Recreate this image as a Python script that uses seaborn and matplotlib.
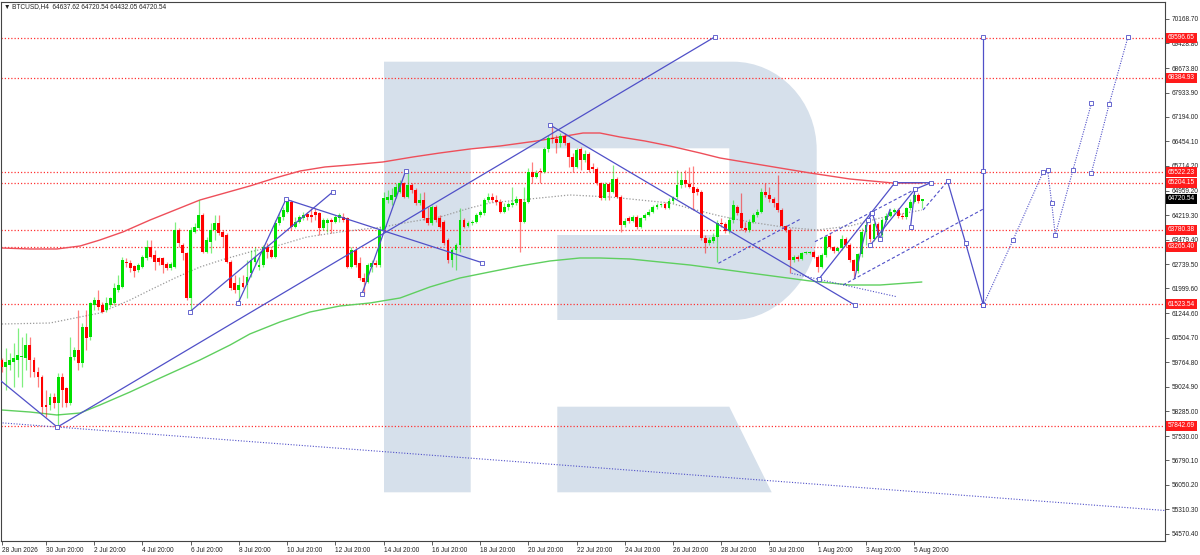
import matplotlib
matplotlib.use("Agg")
import matplotlib.pyplot as plt
from matplotlib.path import Path
from matplotlib.patches import PathPatch, Polygon
import seaborn as sns
import pandas as pd
import numpy as np

# ---------------- data ----------------
opens = [59832,59630,59680,59781,59832,59933,59882,60287,59832,59478,
         59327,58468,58468,58721,58519,59327,58973,58519,59933,60135,
         59731,60842,60539,61499,61650,61499,61347,61499,61549,61953,
         62054,62812,62761,62680,62559,62660,62913,63246,63014,62913,
         62913,62741,62610,62660,63771,63317,63064,61701,63721,63822,
         64226,63115,63418,63771,63973,63721,63620,62812,62155,61953,
         62154,62104,62457,62810,62659,62709,63265,63164,62962,63972,
         64174,64326,64629,63871,64022,64123,64255,64224,64326,64275,
         63820,63972,64073,64022,64123,64174,64123,62659,63164,62760,
         62305,62205,62659,62780,62709,63770,64679,64679,64780,64931,
         65184,64780,65133,64982,64578,64679,64123,63972,64477,64123,
         64022,63467,62861,63164,63316,64073,63891,63992,64022,64224,
         64275,64679,64780,64679,64629,64326,64477,64528,64578,64699,
         64023,64629,65538,65386,65558,65517,66214,66548,66517,66396,
         66618,66396,65992,65689,66214,65891,66073,65689,65608,65184,
         64730,65164,64932,65305,64780,63922,64124,64053,64174,63871,
         64124,64225,64326,64457,64528,64548,64427,64659,64760,65134,
         65285,65164,65083,65003,64932,63518,63386,63447,63548,63972,
         63953,63751,64074,64478,64276,63822,63771,64024,64226,64327,
         64933,64832,64700,64599,64377,63892,63771,62862,62963,62882,
         63064,63084,63115,62963,62660,63014,63589,63246,63145,63216,
         63488,63317,62862,62539,63044,63721,63923,63488,63953,63620,
         64074,64195,64327,64377,64195,64155,64428,64630,64832,64637.62]
highs = [59883,60185,60034,60337,60792,60539,60640,60539,59933,59630,
         59378,58923,58822,58822,59428,59428,59024,60539,60236,61347,
         60943,61347,61600,61751,61953,61600,61751,61751,62155,62408,
         62963,62913,62862,62710,62761,63014,63468,63468,63165,62963,
         62963,62812,62812,64024,63822,63367,63115,63872,63973,64680,
         64276,63569,63973,64226,64226,63771,63670,62862,62408,62357,
         62406,62861,63164,63265,62962,63316,63366,63214,64073,64275,
         64477,64699,64679,64174,64224,64326,64326,64427,64427,64326,
         64123,64123,64123,64224,64275,64275,64174,63265,63214,62962,
         62457,62760,62861,62861,63871,64932,64982,65033,65184,65285,
         65235,65568,65184,65033,64881,64932,64477,64528,64528,64224,
         64073,63520,63214,63366,64427,64123,64053,64073,64275,64376,
         64729,64881,64881,64831,64699,64578,64629,65083,64800,64629,
         65083,65639,65840,65588,65639,66295,66648,66951,66648,66699,
         66699,66446,66093,66245,66295,66194,66144,65790,65689,65235,
         65235,65235,65740,65386,64831,64124,64194,64225,64225,64174,
         64275,64396,64528,64578,64598,64629,64730,64800,65588,65538,
         65588,65689,65709,65063,64982,63619,63568,63669,64073,64125,
         64024,64175,64680,64529,64882,64024,64094,64276,64397,65034,
         65185,65084,64781,65437,64428,63923,63822,63014,63014,63115,
         63145,63145,63165,63014,63064,63620,63670,63286,63266,63620,
         63549,63367,62882,63084,63822,64074,63973,64024,64024,64125,
         64276,64397,64428,64428,64276,64478,64700,64882,64882,64720.54]
lows = [59478,58923,59529,59024,59327,59024,59529,59327,59327,59024,
        58216,58115,58317,58368,57812,58418,58418,58468,59832,59529,
        59630,60135,60438,61347,61347,61246,61297,61448,61499,61903,
        62004,62660,62508,62357,62508,62610,62862,62913,62559,62710,
        62458,62559,62559,62610,63266,62862,61650,61297,63670,63771,
        63064,63064,63064,63468,63620,63266,62761,61953,61852,61549,
        62003,61700,62356,62709,62558,62659,62911,62911,62911,63922,
        64073,64275,63770,63821,63972,64073,64073,64022,64073,63619,
        63770,63720,63669,63972,64022,64022,62608,62608,62659,62255,
        61831,62154,62507,62659,62659,63720,64578,64528,64729,64881,
        64729,64729,64881,64528,64528,64073,63922,63922,64022,63820,
        63316,62760,62659,62558,63113,63820,63851,63922,63972,64174,
        64224,64629,64629,64528,64275,64275,64376,64477,64528,63113,
        63972,64578,65184,65336,65184,65487,66144,66396,66093,66295,
        66346,65689,65538,65639,65588,65841,65538,65538,65134,64679,
        64679,64679,64881,64730,63720,63871,63993,64023,63790,63820,
        64073,64194,64275,64396,64457,64396,64396,64598,64699,65033,
        65083,65033,64376,64831,63467,63063,63316,63386,62802,63872,
        63670,63690,63993,64226,63771,63721,63721,63973,64175,64276,
        64781,64630,64478,64327,63822,63721,62458,62812,62842,62862,
        63034,63044,62913,62509,62610,62943,63185,63084,63104,63165,
        63266,62812,62307,62478,62963,63317,63418,63448,63468,63569,
        64024,64155,64276,64125,64094,64094,64377,64579,64599,64432.05]
closes = [59630,59781,59832,59882,59983,59953,60287,59832,59478,59327,
          58418,58418,58721,58519,59327,58923,58519,59933,60135,59731,
          60842,60489,61549,61650,61448,61297,61549,61701,62004,62105,
          62862,62761,62610,62539,62710,62963,63246,62963,62812,62812,
          62710,62610,62741,63771,63367,63064,61701,63771,63872,64226,
          63115,63468,63771,63973,63670,63569,62812,62004,61953,62105,
          62053,62356,62861,62962,62709,63265,63113,62962,63972,64174,
          64376,64679,63871,64022,64174,64224,64174,64154,64224,63820,
          64073,64073,64022,64174,64224,64073,62659,63164,62709,62305,
          62205,62709,62780,62709,63770,64729,64780,64830,65083,65184,
          64780,65133,64982,64578,64679,64123,63972,64477,64073,63871,
          63366,62861,63164,63316,64073,63871,63992,64022,64224,64326,
          64679,64780,64679,64629,64326,64477,64558,64578,64699,64023,
          64629,65538,65386,65507,65517,66214,66548,66517,66396,66618,
          66396,65992,65689,66194,65891,66073,65588,65608,65184,64730,
          65164,64932,65305,64780,63922,64053,64053,64174,63851,64124,
          64225,64326,64457,64528,64548,64427,64659,64760,65134,65285,
          65164,65083,64902,64932,63518,63386,63467,63548,63972,63953,
          63751,64074,64529,64276,63822,63771,64024,64226,64327,64933,
          64832,64700,64579,64377,63892,63771,62862,62963,62882,63064,
          63115,63115,62963,62660,63014,63569,63246,63145,63216,63488,
          63317,62862,62539,63044,63721,63923,63488,63953,63620,64074,
          64195,64327,64377,64195,64155,64428,64630,64832,64660,64720.54]

# moving averages (bar index, price)
ma_red_x = [0, 7, 13.7, 19.5, 24.4, 30.1, 36.9, 43.1, 49.3, 55.5, 61.7, 68, 74.2, 80.4,
            86.6, 94.8, 102.3, 109, 116.5, 124, 133.1, 138.9, 144.6, 148.8, 153.8, 160,
            166.2, 173.7, 178.7, 186.1, 193.6, 201.1, 211, 221.7, 228.9]
ma_red_y = [63226, 63196, 63196, 63287, 63468, 63711, 64074, 64377, 64680, 64892, 65104,
            65346, 65558, 65680, 65740, 65831, 65983, 66104, 66225, 66316, 66467, 66588,
            66709, 66709, 66588, 66467, 66316, 66104, 65952, 65801, 65649, 65498, 65316,
            65195, 65195]
ma_green_x = [0, 7, 13.7, 19.5, 24.4, 31.9, 39.4, 49.3, 56.8, 61.7, 69.2, 76.7, 84.1, 91.6,
              99.1, 106.5, 114, 121.4, 128.9, 136.4, 143.8, 148.8, 156.3, 163.7, 171.2,
              178.7, 186.1, 193.6, 201.1, 211, 218.5, 228.9]
ma_green_y = [58319, 58258, 58168, 58228, 58470, 58864, 59288, 59834, 60288, 60621, 60985,
              61288, 61469, 61560, 61712, 62045, 62318, 62500, 62681, 62833, 62923, 62923,
              62893, 62802, 62711, 62590, 62469, 62348, 62227, 62105, 62105, 62196]
ma_gray_x = [0, 12, 24.4, 31.9, 36.9, 43.1, 49.3, 55.5, 61.7, 69.2, 75.9, 84.1, 94.8, 101.5,
             109, 116.5, 121.4, 128.9, 141.3, 151.3, 158.8, 166.2, 173.7, 178.7, 186.1,
             194.3, 202.8, 211, 218.5, 228.9]
ma_gray_y = [60924, 60954, 61257, 61651, 61954, 62317, 62650, 62893, 63105, 63317, 63559,
             63711, 63862, 64014, 64165, 64438, 64589, 64680, 64832, 64771, 64680, 64589,
             64347, 64195, 64014, 63862, 63771, 63892, 64135, 64377]

# horizontal levels
levels = [69596.65, 68384.93, 65522.23, 65204.15, 63780.38, 63265.40, 61523.54, 57842.69]
last_price = 64720.54

# wave / trend lines (bar index, price)
solid_lines = [
    ([-0.5, 13.8], [59228, 57800]),
    ([13.8, 177.4], [57800, 69620]),
    ([46.8, 82.4], [61297, 64931]),
    ([58.8, 70.7], [61560, 64701]),
    ([70.7, 119.5], [64701, 62781]),
    ([89.6, 100.5], [61833, 65568]),
    ([136.4, 212.2], [66952, 61500]),
    ([203.3, 222.2, 231.2], [62287, 65204, 65204]),
    ([212.2, 215.5, 216.6, 218.5, 221.0], [62308, 64074, 64280, 63500, 64400]),
    ([216.1, 227.2, 231.2], [63317, 65004, 65204]),
    ([226.1, 227.2], [63871, 65034]),
    ([235.3, 239.8, 244.2], [65246, 63369, 61500]),
    ([244.2, 244.2], [61500, 69608]),
]
marker_pts_x = [13.8, 177.4, 46.8, 82.4, 58.8, 70.7, 119.5, 89.6, 100.5, 136.4, 212.2,
                203.3, 222.2, 231.2, 216.1, 227.2, 226.1, 235.3, 239.8, 244.2, 244.2, 244.2,
                215.5, 216.6, 218.5]
marker_pts_y = [57800, 69620, 61297, 64931, 61560, 64701, 62781, 61833, 65568, 66952, 61500,
                62287, 65204, 65204, 63317, 65004, 63871, 65246, 63369, 61500, 69608, 65558,
                64074, 64280, 63500]
dashed_lines = [
    ([178.3, 198.6], [62763, 64096]),
    ([202.3, 227.2], [63417, 65004]),
    ([209.3, 244.2], [62105, 64407]),
    ([229.2, 235.3], [64377, 65246]),
]
dotted_lines = [
    ([196.5, 222.6], [62460, 61751]),
    ([-0.5, 289.4], [57934, 55275]),
]
forecast_a_x = [244.2, 251.6, 259.1, 260.2, 261.2, 262.1, 266.5, 271.1]
forecast_a_y = [61500, 63468, 65537, 65589, 64598, 63620, 65589, 67609]
forecast_b_x = [271.1, 275.5, 280.2]
forecast_b_y = [65507, 67579, 69626]

ytick_vals = [70168.70, 69428.80, 68673.80, 67933.90, 67194.00, 66454.10, 65714.20,
              64959.20, 64219.30, 63479.40, 62739.50, 61999.60, 61244.60, 60504.70,
              59764.80, 59024.90, 58285.00, 57530.00, 56790.10, 56050.20, 55310.30, 54570.40]
xtick_pos = [0, 11, 23, 35, 47, 59, 71, 83, 95, 107, 119, 131, 143, 155, 167, 179, 191, 203, 215, 227]
xtick_labels = ["28 Jun 2026", "30 Jun 20:00", "2 Jul 20:00", "4 Jul 20:00", "6 Jul 20:00",
                "8 Jul 20:00", "10 Jul 20:00", "12 Jul 20:00", "14 Jul 20:00", "16 Jul 20:00",
                "18 Jul 20:00", "20 Jul 20:00", "22 Jul 20:00", "24 Jul 20:00", "26 Jul 20:00",
                "28 Jul 20:00", "30 Jul 20:00", "1 Aug 20:00", "3 Aug 20:00", "5 Aug 20:00"]
header = "\u25BC BTCUSD,H4  64637.62 64720.54 64432.05 64720.54"

# ---------------- style ----------------
sns.set_theme(style="white")
plt.rcParams['font.family'] = ['Liberation Sans', 'DejaVu Sans']
FS = 4.7

fig = plt.figure(figsize=(12, 5.55), dpi=100)
fig.patch.set_facecolor("white")

# watermark layer (pixel coordinates)
bg = fig.add_axes([0, 0, 1, 1], zorder=0)
bg.set_xlim(0, 1200)
bg.set_ylim(555, 0)
bg.axis("off")
wm = "#d6e0eb"
verts = [(384, 61.7), (733, 61.7), (779, 61.7), (816.7, 101), (816.7, 150),
         (816.7, 235), (816.7, 274), (779, 320), (733, 320),
         (557.3, 320), (557.3, 235), (729.3, 235), (729.3, 148.3), (470.7, 148.3),
         (470.7, 492.3), (384, 492.3), (384, 61.7)]
codes = [Path.MOVETO, Path.LINETO, Path.CURVE4, Path.CURVE4, Path.CURVE4,
         Path.LINETO, Path.CURVE4, Path.CURVE4, Path.CURVE4,
         Path.LINETO, Path.LINETO, Path.LINETO, Path.LINETO, Path.LINETO,
         Path.LINETO, Path.LINETO, Path.CLOSEPOLY]
bg.add_patch(PathPatch(Path(verts, codes), fc=wm, ec="none"))
bg.add_patch(Polygon([(557.3, 406.7), (729.3, 406.7), (771.7, 492.3), (557.3, 492.3)],
                     closed=True, fc=wm, ec="none"))

ax = fig.add_axes([1/1200, 14/555, 1164/1200, 539/555], zorder=1)
ax.set_facecolor("none")
ax.set_xlim(-0.2, 289.4)
ax.set_ylim(54351, 70677)

# levels
for lv in levels:
    ax.axhline(lv, color="#ff3333", lw=0.9, ls=(0, (1, 1.6)), zorder=1)

# moving averages via seaborn
sns.lineplot(x=ma_red_x, y=ma_red_y, ax=ax, color="#ee4f5a", lw=1.0, zorder=2, estimator=None, sort=False)
sns.lineplot(x=ma_green_x, y=ma_green_y, ax=ax, color="#5fcf5f", lw=1.0, zorder=2, estimator=None, sort=False)
sns.lineplot(x=ma_gray_x, y=ma_gray_y, ax=ax, color="#9a9a9a", lw=0.9, zorder=2, estimator=None, sort=False)
ax.lines[-1].set_linestyle((0, (1, 1.5)))
for ln in ax.lines[-3:]:
    ln.set_solid_joinstyle("round")

# candles
df = pd.DataFrame({"o": opens, "h": highs, "l": lows, "c": closes})
df["i"] = np.arange(len(df))
up = df["c"] >= df["o"]
bull, bear = "#00e000", "#ff0000"
cols = np.where(up, bull, bear)
ax.vlines(df["i"], df["l"], df["h"], colors=cols, lw=0.9, alpha=0.5, zorder=3)
body_h = np.maximum((df["c"] - df["o"]).abs(), 25)
ax.bar(df["i"], body_h, bottom=np.minimum(df["o"], df["c"]), width=0.72,
       color=cols, edgecolor="none", zorder=4)

# wave lines
blue = "#5050c8"
for xs, ys in solid_lines:
    ax.plot(xs, ys, color=blue, lw=0.9, zorder=5)
for xs, ys in dashed_lines:
    ax.plot(xs, ys, color=blue, lw=0.8, ls=(0, (3, 2)), zorder=5)
for xs, ys in dotted_lines:
    ax.plot(xs, ys, color=blue, lw=0.8, ls=(0, (1, 1.5)), zorder=5)
ax.plot(forecast_a_x, forecast_a_y, color=blue, lw=0.8, ls=(0, (1, 1.2)), zorder=5,
        marker="s", ms=2.2, mfc="white", mec=blue, mew=0.6)
ax.plot(forecast_b_x, forecast_b_y, color=blue, lw=0.8, ls=(0, (1, 1.2)), zorder=5,
        marker="s", ms=2.2, mfc="white", mec=blue, mew=0.6)
ax.plot(marker_pts_x, marker_pts_y, ls="none", marker="s", ms=2.2, mfc="white",
        mec=blue, mew=0.6, zorder=6)

# axes styling
for s in ax.spines.values():
    s.set_color("#444444")
    s.set_linewidth(0.8)
ax.yaxis.tick_right()
ax.set_yticks(ytick_vals)
ax.set_yticklabels([f"{v:.2f}" for v in ytick_vals])
ax.set_xticks(xtick_pos)
ax.set_xticklabels(xtick_labels)
ax.tick_params(axis="y", which="both", right=True, left=False, length=3, width=0.6,
               color="#444444", labelsize=FS, pad=2, labelcolor="#222222")
ax.tick_params(axis="x", which="both", bottom=True, length=3, width=0.6,
               color="#444444", labelsize=FS, pad=1.5, labelcolor="#222222")
for t in ax.get_xticklabels():
    t.set_ha("left")
ax.set_xlabel("")
ax.set_ylabel("")
ax.grid(False)

# level price boxes
for lv in levels:
    ax.annotate(f"{lv:.2f}", xy=(1, lv), xycoords=("axes fraction", "data"),
                xytext=(3, 0), textcoords="offset pixels", ha="left", va="center",
                fontsize=FS, color="white", annotation_clip=False, zorder=10,
                bbox=dict(boxstyle="square,pad=0.25", fc="#ff1a1a", ec="none"))
ax.annotate(f"{last_price:.2f}", xy=(1, last_price), xycoords=("axes fraction", "data"),
            xytext=(3, 0), textcoords="offset pixels", ha="left", va="center",
            fontsize=FS, color="white", annotation_clip=False, zorder=10,
            bbox=dict(boxstyle="square,pad=0.25", fc="black", ec="none"))

fig.text(4/1200, 1 - 7/555, header, fontsize=FS, va="center", ha="left", color="#222222")

fig.savefig("out.png", dpi=100, facecolor="white")
